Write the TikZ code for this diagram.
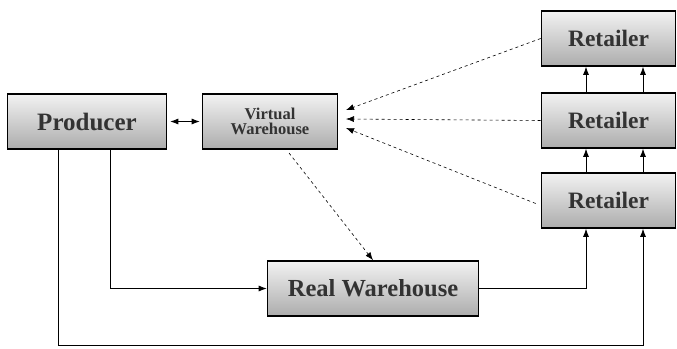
\documentclass[tikz,border=0pt]{standalone}
\usepackage{fontspec}
\setmainfont{Liberation Serif}
\usetikzlibrary{arrows.meta}
\begin{document}
\begin{tikzpicture}[x=1pt, y=-1pt, thick, >={Latex[length=8pt,width=6pt]},
	main/.style = {draw, line width=1.6pt, top color=gray!10, bottom color=gray!65, minimum height=55pt, inner sep=0pt, text=black!80, font=\fontsize{23.5}{23.5}\selectfont\bfseries},
	small/.style = {align=center, font=\fontsize{16.5}{15}\selectfont\bfseries},
	link/.style = {dashed, semithick}]
	
	\useasboundingbox (0,0) rectangle (677,348);
	
	\node[main, minimum width=159pt, font=\fontsize{25}{25}\selectfont\bfseries] (prod) at (87,121.5) {Producer};
	\node[main, small, minimum width=135pt] (virt) at (270,121.5) {Virtual\\Warehouse};
	\node[main, minimum width=134pt] (ret1) at (608.5,38.5) {Retailer};
	\node[main, minimum width=134pt] (ret2) at (608.5,120.5) {Retailer};
	\node[main, minimum width=134pt] (ret3) at (608.5,200.5) {Retailer};
	\node[main, minimum width=211pt, font=\fontsize{24.5}{24.5}\selectfont\bfseries] (real) at (373,288.5) {Real Warehouse};
	
	\coordinate (in1) at (346,110);
	\coordinate (in2) at (346,119);
	\coordinate (in3) at (346,128);
	\coordinate (vs) at (289,153);
	
	\draw[<->, shorten <=3pt, shorten >=2pt] (prod) -- (virt);
	
	\draw[link, ->] (ret1.west) -- (in1);
	\draw[link, ->] (ret2.west) -- (in2);
	\draw[link, ->] ([xshift=-5pt, yshift=-3pt]ret3.west) -- (in3);
	\draw[link, ->] (vs) -- (real.north);
	
	\foreach \dx in {-22.5pt, 34.5pt} {
		\draw[->] ([xshift=\dx]ret3.north) -- ([xshift=\dx]ret2.south);
		\draw[->] ([xshift=\dx]ret2.north) -- ([xshift=\dx]ret1.south);
	}
	
	\draw[->] ([xshift=-29pt]prod.south) -- ++(0,196) -| ([xshift=34.5pt]ret3.south);
	\draw[->] ([xshift=23pt]prod.south) |- (real.west);
	\draw[->] (real.east) -| ([xshift=-22.5pt]ret3.south);
\end{tikzpicture}
\end{document}
